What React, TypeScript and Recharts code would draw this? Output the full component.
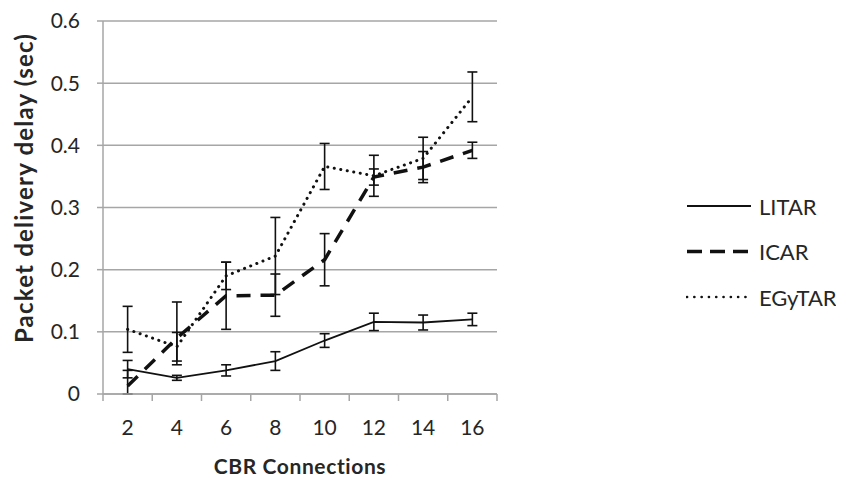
import React from 'react';
import { LineChart, Line, XAxis, YAxis, CartesianGrid, ErrorBar, Legend, Label } from 'recharts';

const CONNECTIONS = [2, 4, 6, 8, 10, 12, 14, 16];
const X_DIVIDERS = [1, 3, 5, 7, 9, 11, 13, 15, 17];
const Y_TICKS = [0, 0.1, 0.2, 0.3, 0.4, 0.5, 0.6];

const LITAR = [0.04, 0.026, 0.038, 0.053, 0.086, 0.116, 0.115, 0.12];
const LITAR_ERR = [0.014, 0.004, 0.009, 0.015, 0.011, 0.014, 0.012, 0.01];

const ICAR = [0.013, 0.09, 0.158, 0.159, 0.216, 0.349, 0.365, 0.392];
const ICAR_ERR: (number | number[])[] = [[0.013, 0.025], [0.043, 0.058], 0.054, 0.034, 0.042, 0.013, 0.025, 0.013];

const EGYTAR = [0.104, 0.076, 0.19, 0.222, 0.366, 0.351, 0.379, 0.478];
const EGYTAR_ERR = [0.037, 0.023, 0.022, 0.062, 0.037, 0.033, 0.034, 0.04];

const SERIES_NAMES = ['LITAR', 'ICAR', 'EGyTAR'];

const data = CONNECTIONS.map((c, i) => ({
  x: c,
  litar: LITAR[i],
  litarErr: LITAR_ERR[i],
  icar: ICAR[i],
  icarErr: ICAR_ERR[i],
  egytar: EGYTAR[i],
  egytarErr: EGYTAR_ERR[i],
}));

const FONT = 'Lato, "Open Sans", sans-serif';
const TEXT = '#262626';
const GRID = '#a6a6a6';

const ALL_X_TICKS = [...X_DIVIDERS, ...CONNECTIONS].sort((a, b) => a - b);

const XTick = (props: any) => {
  const { x, y, payload } = props;
  const v = payload.value;
  if (CONNECTIONS.includes(v)) {
    return (
      <text x={x} y={y + 26} dy="0.71em" textAnchor="middle" fontSize={21} fontFamily={FONT} fill={TEXT}>
        {String(v)}
      </text>
    );
  }
  return <line x1={x} x2={x} y1={y} y2={y + 7} stroke={GRID} strokeWidth={1.5} />;
};

const LegendContent = () => {
  const styles = [
    { dash: undefined, width: 1.8, cap: 'butt' },
    { dash: '15 8', width: 3.5, cap: 'butt' },
    { dash: '0.1 7.2', width: 2.6, cap: 'round' },
  ];
  return (
    <svg width={150} height={130}>
      {SERIES_NAMES.map((n, i) => {
        const cy = 16 + i * 45.5;
        const s = styles[i];
        return (
          <g key={n}>
            <line x1={1} x2={65} y1={cy} y2={cy} stroke="#111" strokeWidth={s.width} strokeDasharray={s.dash} strokeLinecap={s.cap as any} />
            <text x={73} y={cy} dominantBaseline="central" fontSize={22} fontFamily={FONT} fill={TEXT}>
              {n}
            </text>
          </g>
        );
      })}
    </svg>
  );
};

export default function App() {
  return (
    <div style={{ position: 'absolute', left: 0, top: 0, width: 843, height: 478, background: '#fff' }}>
      <LineChart width={843} height={478} data={data} margin={{ top: 21, right: 196, bottom: 24, left: 0 }}>
        <CartesianGrid vertical={false} stroke={GRID} strokeWidth={1.5} />
        <XAxis
          dataKey="x"
          type="number"
          domain={[1, 17]}
          ticks={ALL_X_TICKS}
          interval={0}
          height={60}
          tickSize={0}
          tickMargin={0}
          tickLine={false}
          axisLine={{ stroke: GRID, strokeWidth: 1.5 }}
          tick={<XTick />}
        >
          <Label
            content={(p: any) => {
              const vb = p.viewBox || {};
              return (
                <text
                  x={vb.x + vb.width / 2}
                  y={vb.y + 71}
                  textAnchor="middle"
                  dominantBaseline="central"
                  fontSize={21}
                  letterSpacing={0.6}
                  fontWeight="bold"
                  fontFamily={FONT}
                  fill={TEXT}
                >
                  CBR Connections
                </text>
              );
            }}
          />
        </XAxis>
        <YAxis
          type="number"
          domain={[0, 0.6]}
          ticks={Y_TICKS}
          interval={0}
          width={103}
          tickSize={6}
          tickMargin={17}
          axisLine={{ stroke: GRID, strokeWidth: 1.5 }}
          tickLine={{ stroke: GRID, strokeWidth: 1.5 }}
          tick={{ fontSize: 21, fontFamily: FONT, fill: TEXT }}
          tickFormatter={(v: number) => String(v)}
        >
          <Label
            content={() => (
              <text
                x={23}
                y={188}
                transform="rotate(-90, 23, 188)"
                textAnchor="middle"
                dominantBaseline="central"
                fontSize={24}
                letterSpacing={1.2}
                fontWeight="bold"
                fontFamily={FONT}
                fill={TEXT}
              >
                Packet delivery delay (sec)
              </text>
            )}
          />
        </YAxis>
        <Legend
          layout="vertical"
          align="right"
          verticalAlign="top"
          content={<LegendContent />}
          wrapperStyle={{ position: 'absolute', left: 686, top: 190, width: 150, height: 130 }}
        />
        <Line
          name="LITAR"
          dataKey="litar"
          type="linear"
          stroke="#111"
          strokeWidth={1.8}
          dot={false}
          activeDot={false}
          isAnimationActive={false}
        >
          <ErrorBar dataKey="litarErr" width={5} stroke="#111" strokeWidth={1.6} direction="y" />
        </Line>
        <Line
          name="ICAR"
          dataKey="icar"
          type="linear"
          stroke="#111"
          strokeWidth={3.5}
          strokeDasharray="14 10"
          dot={false}
          activeDot={false}
          isAnimationActive={false}
        >
          <ErrorBar dataKey="icarErr" width={5} stroke="#111" strokeWidth={1.6} direction="y" />
        </Line>
        <Line
          name="EGyTAR"
          dataKey="egytar"
          type="linear"
          stroke="#111"
          strokeWidth={3}
          strokeDasharray="0.1 6.5"
          strokeLinecap="round"
          dot={false}
          activeDot={false}
          isAnimationActive={false}
        >
          <ErrorBar dataKey="egytarErr" width={5} stroke="#111" strokeWidth={1.6} direction="y" />
        </Line>
      </LineChart>
    </div>
  );
}
